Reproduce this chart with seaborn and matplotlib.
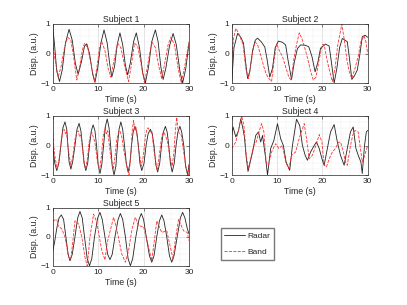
import numpy as np
import matplotlib
matplotlib.use("Agg")
import matplotlib.pyplot as plt
from matplotlib.ticker import MultipleLocator
import pandas as pd
import seaborn as sns

# (time s, displacement a.u.)
radar1 = [(0, 0.95), (0.4, 0.3), (0.9, -0.6), (1.5, -0.95), (2.1, -0.55), (2.8, 0.35), (3.6, 0.82),
          (4.3, 0.45), (5.0, -0.35), (5.6, -0.7), (6.3, -0.3), (7.0, 0.25), (7.5, 0.33), (8.1, 0.0),
          (8.8, -0.7), (9.3, -0.98), (9.9, -0.5), (10.6, 0.35), (11.3, 0.8), (12.0, 0.35), (12.5, -0.3),
          (13.0, -0.8), (13.6, -0.45), (14.2, 0.3), (14.8, 0.7), (15.4, 0.3), (16.0, -0.4), (16.5, -0.73),
          (17.1, -0.3), (17.8, 0.4), (18.4, 0.7), (19.1, 0.2), (19.8, -0.65), (20.4, -1.0), (21.1, -0.45),
          (21.8, 0.4), (22.6, 0.8), (23.2, 0.4), (23.8, -0.45), (24.3, -0.88), (24.9, -0.5), (25.7, 0.25),
          (26.5, 0.68), (27.2, 0.3), (28.0, -0.6), (28.6, -1.0), (29.3, -0.5), (30, 0.35)]
band1 = [(0, 0.35), (0.5, -0.2), (1.2, -0.8), (1.9, -0.4), (2.6, 0.2), (3.3, 0.55), (4.0, 0.45),
         (4.6, -0.1), (5.3, -0.9), (5.9, -0.5), (6.5, 0.1), (7.0, 0.35), (7.7, 0.2), (8.5, -0.4),
         (9.2, -0.95), (9.8, -0.4), (10.3, 0.2), (10.8, 0.4), (11.5, 0.1), (12.2, -0.5), (12.8, -0.8),
         (13.4, -0.3), (14.3, 0.35), (15.0, 0.2), (15.8, -0.4), (16.7, -0.95), (17.3, -0.4), (18.0, 0.35),
         (18.7, 0.25), (19.5, -0.4), (20.2, -1.0), (20.9, -0.4), (21.8, 0.4), (22.6, 0.2), (23.3, -0.4),
         (24.0, -0.85), (24.7, -0.3), (25.4, 0.3), (26.0, 0.55), (26.8, 0.3), (27.6, -0.5), (28.3, -1.0),
         (29.1, -0.4), (30, 0.4)]

radar2 = [(0, -1.0), (0.5, 0.2), (1.3, 0.68), (2.0, 0.55), (2.6, 0.35), (3.0, -0.2), (3.5, -0.85),
          (4.0, -0.6), (4.6, 0.1), (5.2, 0.45), (5.7, 0.52), (6.5, 0.4), (7.3, 0.22), (7.8, -0.2),
          (8.4, -0.8), (9.0, -0.5), (9.6, 0.2), (10.3, 0.42), (11.2, 0.38), (11.9, 0.29), (12.4, -0.2),
          (13.2, -0.88), (13.8, -0.3), (14.5, 0.17), (15.2, 0.29), (16.2, 0.28), (17.0, 0.23), (17.7, -0.1),
          (18.4, -0.62), (19.0, -0.3), (19.6, 0.18), (20.7, 0.32), (21.5, 0.25), (22.0, -0.3), (22.6, -1.0),
          (23.2, -0.5), (23.8, 0.2), (24.4, 0.51), (25.5, 0.4), (26.0, -0.2), (26.5, -0.88), (27.1, -0.75),
          (27.7, -0.56), (28.3, 0.0), (28.8, 0.57), (29.4, 0.62), (30, 0.55)]
band2 = [(0, -0.3), (0.4, 0.5), (0.9, 0.85), (1.5, 0.7), (2.0, 0.5), (2.5, 0.3), (3.1, -0.5), (3.7, -0.85),
         (4.2, -0.4), (4.6, 0.0), (5.1, 0.4), (5.7, 0.3), (6.3, 0.0), (7.0, -0.4), (7.6, -0.7), (8.2, -0.85),
         (8.8, -0.95), (9.3, -0.3), (9.9, 0.34), (10.5, 0.1), (11.2, -0.1), (12.0, -0.5), (12.6, -0.8),
         (13.1, -0.9), (13.7, -0.2), (14.3, 0.3), (14.9, 0.7), (15.5, 0.5), (16.1, 0.2), (16.8, -0.2),
         (17.4, -0.6), (18.0, -0.9), (18.6, -0.8), (19.3, -0.2), (20.0, 0.3), (20.4, 0.3), (21.0, -0.2),
         (21.6, -0.6), (22.2, -0.95), (22.8, -0.5), (23.4, 0.3), (24.3, 1.0), (24.9, 0.4), (25.4, -0.2),
         (25.9, -0.6), (26.5, -0.85), (27.2, -0.5), (27.9, -0.1), (28.5, 0.4), (29.2, 0.6), (29.6, 0.4),
         (30, 0.0)]

radar3 = [(0, 0.0), (0.45, -0.6), (0.9, -0.85), (1.35, -0.6), (1.8, 0.0), (2.25, 0.6), (2.7, 0.8),
          (3.1, 0.55), (3.35, 0.0), (3.6, -0.55), (4.0, -0.8), (4.4, -0.55), (4.9, 0.0), (5.35, 0.55),
          (5.8, 0.75), (6.2, 0.5), (6.55, 0.0), (6.9, -0.6), (7.3, -0.85), (7.7, -0.6), (8.1, 0.0),
          (8.5, 0.5), (8.9, 0.7), (9.3, 0.5), (9.65, 0.0), (10.0, -0.65), (10.4, -0.95), (10.8, -0.65),
          (11.2, 0.0), (11.6, 0.65), (12.0, 0.9), (12.4, 0.6), (12.75, 0.0), (13.1, -0.7), (13.5, -1.0),
          (13.9, -0.7), (14.25, 0.0), (14.6, 0.55), (15.0, 0.8), (15.4, 0.55), (15.8, 0.0), (16.2, -0.6),
          (16.6, -0.9), (17.0, -0.6), (17.35, 0.0), (17.7, 0.45), (18.1, 0.65), (18.5, 0.45), (18.85, 0.0),
          (19.2, -0.6), (19.6, -0.85), (20.1, -0.6), (20.55, 0.0), (21.0, 0.4), (21.5, 0.55), (21.9, 0.4),
          (22.3, 0.0), (22.7, -0.65), (23.1, -0.9), (23.55, -0.6), (23.95, 0.0), (24.35, 0.45), (24.8, 0.65),
          (25.2, 0.45), (25.55, 0.0), (25.9, -0.6), (26.3, -0.9), (26.75, -0.6), (27.15, 0.0), (27.55, 0.45),
          (28.0, 0.65), (28.4, 0.45), (28.85, 0.0), (29.25, -0.7), (29.7, -1.0), (30, -0.65)]
band3 = [(0, 0.4), (0.4, -0.3), (1.0, -0.8), (1.5, -0.4), (1.9, 0.2), (2.2, 0.45), (2.5, 0.55), (2.8, 0.4),
         (3.0, 0.5), (3.4, -0.1), (4.0, -0.7), (4.4, -0.4), (4.9, 0.2), (5.3, 0.45), (5.6, 0.5), (5.9, 0.3),
         (6.2, 0.35), (6.7, -0.3), (7.2, -0.8), (7.6, -0.5), (8.0, 0.1), (8.3, 0.35), (8.6, 0.45), (8.9, 0.3),
         (9.3, 0.1), (9.8, -0.5), (10.3, -0.85), (10.7, -0.4), (11.1, 0.3), (11.5, 0.6), (11.8, 0.4),
         (12.1, 0.5), (12.7, -0.3), (13.3, -0.8), (13.7, -0.4), (14.1, 0.2), (14.5, 0.45), (14.8, 0.5),
         (15.2, 0.3), (15.7, -0.2), (16.3, -0.7), (16.8, -1.0), (17.2, -0.3), (17.5, 0.5), (17.8, 0.85),
         (18.1, 0.5), (18.4, 0.6), (18.9, -0.1), (19.5, -0.7), (19.9, -0.4), (20.4, 0.3), (20.7, 0.55),
         (21.0, 0.6), (21.4, 0.45), (21.8, 0.5), (22.4, -0.3), (23.0, -0.85), (23.4, -0.4), (23.9, 0.2),
         (24.2, 0.4), (24.5, 0.45), (24.9, 0.3), (25.3, 0.1), (25.8, -0.4), (26.3, -0.7), (26.7, -0.2),
         (27.0, 0.5), (27.3, 0.95), (27.6, 0.5), (27.9, 0.4), (28.3, 0.35), (28.8, -0.2), (29.3, -0.7),
         (29.8, -1.0), (30, -0.6)]

radar4 = [(0, 0.35), (0.3, 0.63), (0.9, 0.29), (1.5, 0.5), (2.0, 0.9), (2.4, 0.63), (2.8, 0.3), (3.2, -0.4),
          (3.6, -0.88), (4.6, -0.22), (5.3, 0.34), (5.9, 0.46), (6.4, 0.12), (6.8, 0.34), (7.4, -0.33),
          (7.9, -1.0), (8.6, -0.1), (9.3, 0.17), (10.1, 0.74), (10.8, 0.23), (11.4, 0.0), (12.0, -0.56),
          (12.8, -0.84), (13.4, 0.0), (14.3, 0.89), (15.0, 0.68), (15.6, 0.0), (16.2, -0.33), (16.7, -0.5),
          (17.4, -0.22), (18.2, 0.0), (18.7, 0.12), (19.3, -0.1), (20.0, -0.5), (20.4, -0.67), (21.1, -0.1),
          (21.8, 0.46), (22.6, 0.71), (23.3, 0.12), (24.0, -0.33), (24.8, -0.67), (25.5, -0.1), (26.2, 0.46),
          (26.8, 0.63), (27.4, -0.1), (27.9, -0.33), (28.5, -0.56), (28.8, -0.95), (29.3, 0.0), (29.7, 0.46),
          (30, 0.51)]
band4 = [(0, -0.1), (0.9, 0.12), (1.6, 0.57), (2.2, 1.0), (2.7, 0.68), (3.2, -0.33), (3.7, -0.79),
         (4.2, -0.45), (4.9, 0.0), (5.4, 0.12), (6.0, 0.45), (6.6, 0.74), (7.1, 0.46), (7.6, -0.56),
         (8.1, -0.67), (8.8, -0.22), (9.7, 0.06), (10.4, -0.1), (11.2, 0.0), (11.9, -0.56), (12.6, -0.79),
         (13.2, -0.33), (14.1, -0.22), (15.0, 0.3), (16.0, 0.74), (16.5, 0.23), (17.1, -0.45), (17.8, -0.33),
         (18.7, 0.06), (19.3, 0.37), (19.9, 0.12), (20.4, -0.67), (20.9, -0.73), (21.5, -0.45), (22.2, -0.22),
         (22.9, -0.1), (23.5, 0.1), (24.0, 0.12), (24.6, -0.2), (25.1, -0.56), (25.5, -0.67), (26.2, 0.0),
         (26.7, 0.35), (27.2, 0.51), (27.9, 0.46), (28.5, -0.22), (28.8, -0.56), (29.2, -0.4), (30, 0.0)]

radar5 = [(0, -0.5), (0.4, -0.2), (0.9, 0.3), (1.4, 0.65), (1.9, 0.75), (2.4, 0.6), (2.9, 0.0), (3.4, -0.6),
          (3.8, -0.82), (4.3, -0.6), (4.9, 0.0), (5.5, 0.65), (6.0, 0.87), (6.5, 0.65), (7.0, 0.0),
          (7.6, -0.75), (8.1, -0.99), (8.6, -0.75), (9.2, 0.0), (9.9, 0.65), (10.4, 0.84), (10.9, 0.6),
          (11.5, 0.0), (12.1, -0.6), (12.6, -0.78), (13.1, -0.6), (13.7, 0.0), (14.4, 0.6), (14.9, 0.8),
          (15.4, 0.6), (16.0, 0.0), (16.6, -0.75), (17.1, -0.99), (17.6, -0.75), (18.3, 0.0), (19.0, 0.6),
          (19.5, 0.8), (20.0, 0.6), (20.6, 0.0), (21.3, -0.65), (21.8, -0.87), (22.3, -0.65), (22.9, 0.0),
          (23.5, 0.55), (24.0, 0.75), (24.5, 0.55), (25.1, 0.0), (25.7, -0.65), (26.2, -0.87), (26.7, -0.65),
          (27.4, 0.0), (28.1, 0.65), (28.6, 0.84), (29.1, 0.65), (29.6, 0.3), (30, 0.1)]
band5 = [(0, 0.55), (0.9, 0.6), (1.2, 0.38), (2.0, 0.27), (2.7, 0.0), (3.5, -0.7), (4.0, -0.76), (4.4, -0.2),
         (4.9, 0.55), (5.7, 0.44), (6.4, 0.0), (7.1, -0.7), (7.6, -1.0), (8.2, 0.0), (9.0, 0.78), (9.7, 0.5),
         (10.8, -0.47), (11.5, -0.79), (12.0, -0.2), (13.4, 0.67), (14.1, 0.27), (15.2, -0.59), (16.0, -0.87),
         (16.7, -0.47), (17.5, 0.3), (18.2, 0.67), (18.9, 0.38), (20.0, 0.35), (21.1, -0.36), (21.8, -0.82),
         (22.4, -0.1), (22.9, 0.55), (24.0, 0.15), (25.1, 0.21), (25.9, -0.36), (26.5, -0.76), (27.0, -0.1),
         (27.7, 0.6), (28.8, 0.21), (29.6, 0.15), (30, -0.13)]

subjects = ["Subject 1", "Subject 2", "Subject 3", "Subject 4", "Subject 5"]
radar = [radar1, radar2, radar3, radar4, radar5]
band = [band1, band2, band3, band4, band5]

sns.set_theme(style="white")
plt.rcParams['font.family'] = ['Liberation Sans', 'DejaVu Sans']
plt.rcParams['font.size'] = 6

W, H = 407, 305
fig = plt.figure(figsize=(W / 100, H / 100), dpi=100)

# axes boxes in pixels: left, top, right, bottom
col_x = [(52.7, 189.0), (231.7, 367.7)]
row_y = [(24.0, 83.0), (116.0, 175.0), (207.7, 266.0)]

for i, name in enumerate(subjects):
    r, c = divmod(i, 2)
    x0, x1 = col_x[c]
    y0, y1 = row_y[r]
    ax = fig.add_axes([x0 / W, 1 - y1 / H, (x1 - x0) / W, (y1 - y0) / H])

    dr = pd.DataFrame(radar[i], columns=["t", "v"])
    db = pd.DataFrame(band[i], columns=["t", "v"])
    sns.lineplot(data=dr, x="t", y="v", ax=ax, color="#222222", lw=0.6,
                 estimator=None, sort=False, label="Radar", legend=False)
    sns.lineplot(data=db, x="t", y="v", ax=ax, color="#ff3030", lw=0.6,
                 linestyle="--", dashes=(3, 1.5), estimator=None, sort=False,
                 label="Band", legend=False)

    ax.set_xlim(0, 30)
    ax.set_ylim(-1, 1)
    ax.xaxis.set_major_locator(MultipleLocator(10))
    ax.xaxis.set_minor_locator(MultipleLocator(2))
    ax.yaxis.set_major_locator(MultipleLocator(1))
    ax.yaxis.set_minor_locator(MultipleLocator(0.2))
    ax.grid(which="major", color="#d0d0d0", lw=0.4)
    ax.grid(which="minor", color="#e2e2e2", lw=0.35, linestyle=(0, (2, 2)))
    ax.set_axisbelow(True)
    ax.tick_params(which="both", direction="in", top=True, right=True,
                   length=2, width=0.4, labelsize=6, pad=2, colors="#262626")
    ax.tick_params(which="minor", length=0)
    for sp in ax.spines.values():
        sp.set_color("#262626")
        sp.set_linewidth(0.5)
    ax.set_title(name, fontsize=6.3, pad=1.5)
    ax.set_xlabel("Time (s)", fontsize=6.3, labelpad=1.5)
    ax.set_ylabel("Disp. (a.u.)", fontsize=6.3, labelpad=1)
    if i == 0:
        handles, labels = ax.get_legend_handles_labels()

fig.legend(handles, labels, loc="upper left", bbox_to_anchor=(220.7 / W, 1 - 228 / H),
           borderaxespad=0, frameon=True, fancybox=False, edgecolor="#555555",
           fontsize=6, handlelength=2.5, handletextpad=0.3, borderpad=0.45,
           labelspacing=1.0)
fig.savefig("out.png", dpi=100)
